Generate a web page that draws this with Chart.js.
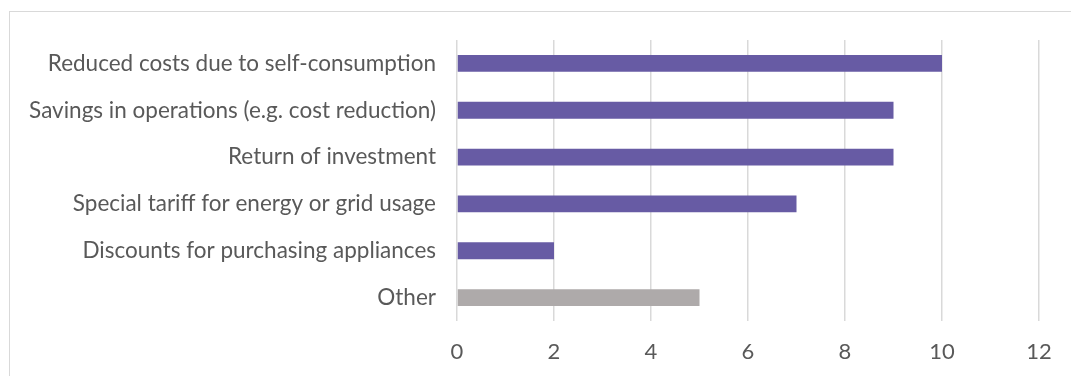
<!DOCTYPE html>
<html lang="en">
<head>
    <meta charset="UTF-8">
    <title>Benefits chart</title>
    <style>
        html, body { margin: 0; padding: 0; background: #fff; overflow: hidden; }
        .frame {
            position: absolute;
            left: 9px;
            top: 11px;
            width: 1200px;
            height: 500px;
            border-left: 1px solid #d9d9d9;
            border-top: 1px solid #d9d9d9;
        }
        .chart-box {
            position: absolute;
            left: 0;
            top: 0;
            width: 1071px;
            height: 376px;
        }
    </style>
</head>
<body>
    <div class="frame"></div>
    <div class="chart-box">
        <canvas id="benefitChart"></canvas>
    </div>

    <script src="https://cdn.jsdelivr.net/npm/chart.js"></script>
    <script>
        // chart data
        const categories = [
            'Reduced costs due to self-consumption',
            'Savings in operations (e.g. cost reduction)',
            'Return of investment',
            'Special tariff for energy or grid usage',
            'Discounts for purchasing appliances',
            'Other'
        ];
        const counts = [10, 9, 9, 7, 2, 5];
        const xTicks = [0, 2, 4, 6, 8, 10, 12];

        const purple = '#675BA4';
        const grey = '#AEAAAA';
        const barColors = categories.map(c => c === 'Other' ? grey : purple);

        const ctx = document.getElementById('benefitChart');
        new Chart(ctx, {
            type: 'bar',
            data: {
                labels: categories,
                datasets: [{
                    data: counts,
                    backgroundColor: barColors,
                    borderWidth: 0,
                    categoryPercentage: 1,
                    barPercentage: 0.36
                }]
            },
            options: {
                indexAxis: 'y',
                responsive: true,
                maintainAspectRatio: false,
                animation: false,
                layout: {
                    padding: { top: 40, right: 32, bottom: 0, left: 0 }
                },
                plugins: {
                    legend: { display: false },
                    tooltip: { enabled: true }
                },
                scales: {
                    x: {
                        min: 0,
                        max: 12,
                        afterBuildTicks: function(scale) {
                            scale.ticks = xTicks.map(v => ({ value: v }));
                        },
                        afterFit: function(scale) {
                            scale.height = 55;
                        },
                        border: { display: false },
                        grid: {
                            color: '#d9d9d9',
                            lineWidth: 1.5,
                            drawTicks: false
                        },
                        ticks: {
                            color: '#595959',
                            padding: 18,
                            font: { family: 'Lato', size: 22 }
                        }
                    },
                    y: {
                        afterFit: function(scale) {
                            scale.width = 457;
                        },
                        border: { display: false },
                        grid: { display: false, drawTicks: false },
                        ticks: {
                            color: '#595959',
                            padding: 21,
                            font: { family: 'Lato', size: 22.5 }
                        }
                    }
                }
            }
        });
    </script>
</body>
</html>
